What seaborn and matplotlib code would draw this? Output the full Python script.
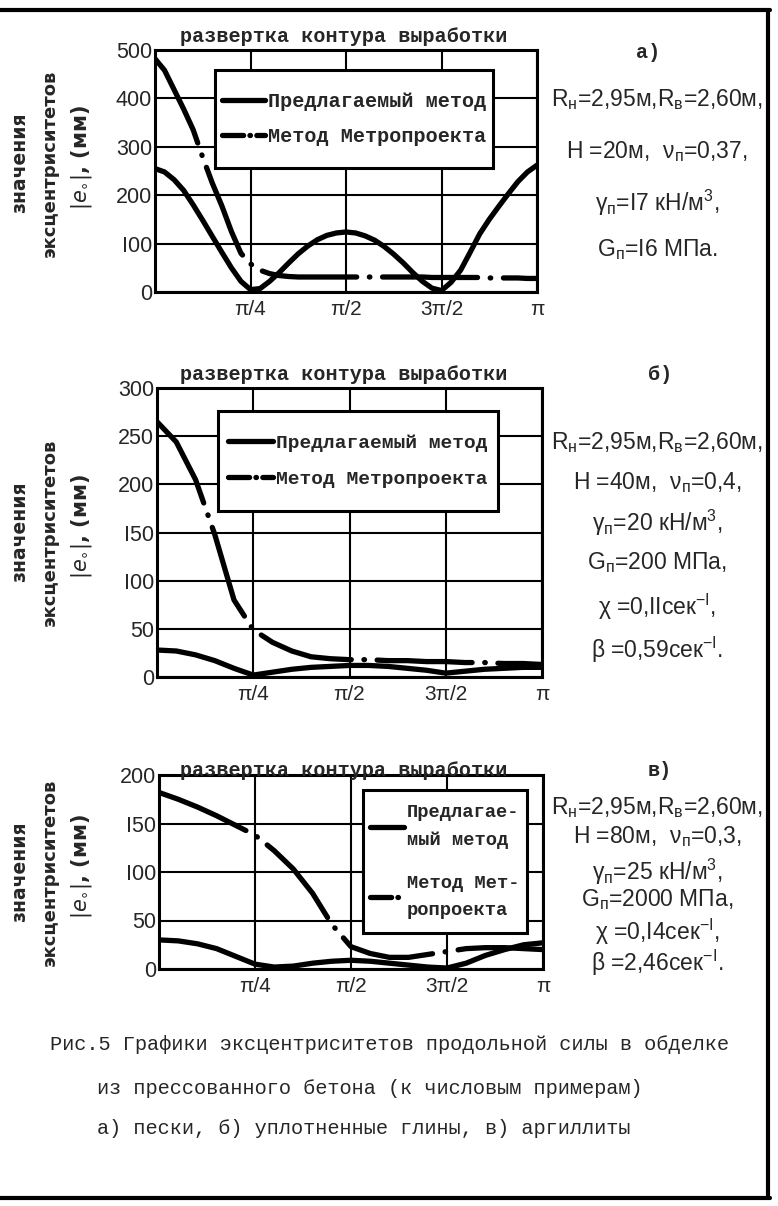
import numpy as np
import pandas as pd
import matplotlib
matplotlib.use("Agg")
import matplotlib.pyplot as plt
import seaborn as sns
from matplotlib.lines import Line2D
from matplotlib.patches import Rectangle
from matplotlib.font_manager import FontProperties


# DATA  (x is the contour position as a fraction of pi)
x_fine = [0.0, 0.025, 0.05, 0.075, 0.1, 0.125, 0.15, 0.175, 0.2, 0.225,
          0.25, 0.275, 0.3, 0.325, 0.35, 0.375, 0.4, 0.425, 0.45, 0.475,
          0.5, 0.525, 0.55, 0.575, 0.6, 0.625, 0.65, 0.675, 0.7, 0.725,
          0.75, 0.775, 0.8, 0.825, 0.85, 0.875, 0.9, 0.925, 0.95, 0.975, 1.0]
x_coarse = [0.0, 0.05, 0.1, 0.15, 0.2, 0.25, 0.3, 0.35, 0.4, 0.45, 0.5,
            0.55, 0.6, 0.65, 0.7, 0.75, 0.8, 0.85, 0.9, 0.95, 1.0]

# panel a) - sands (read on x_fine)
a_proposed = [255, 248, 232, 210, 180, 148, 115, 82, 50, 22,
              5, 7, 22, 40, 60, 79, 95, 108, 117, 122,
              124, 122, 116, 107, 94, 78, 60, 40, 22, 8,
              3, 20, 45, 82, 120, 150, 177, 203, 228, 248, 262]
a_metro = [482, 458, 418, 378, 335, 278, 225, 178, 125, 80,
           58, 45, 38, 34, 32, 31, 31, 31, 31, 31,
           31, 31, 31, 31, 31, 31, 31, 31, 31, 30,
           30, 30, 30, 30, 30, 29, 29, 29, 29, 28, 28]

# panel b) - compacted clays (read on x_coarse)
b_proposed = [28, 27, 23, 17, 9, 2, 5, 8, 10, 11, 12,
              12, 11, 9, 7, 4, 6, 8, 9, 10, 10]
b_metro = [265, 244, 205, 148, 80, 49, 36, 27, 21, 19, 18,
           18, 17, 17, 16, 16, 15, 15, 14, 14, 13]

# panel c) - argillites (read on x_coarse)
c_proposed = [30, 29, 26, 21, 13, 5, 2, 3, 6, 8, 9,
              8, 6, 4, 2, 1, 6, 14, 20, 25, 27]
c_metro = [182, 175, 167, 158, 148, 138, 122, 103, 78, 46, 23,
           16, 12, 12, 15, 18, 21, 22, 22, 21, 20]

x_ticks = [0.25, 0.5, 0.75, 1.0]
x_ticklabels = ["π/4", "π/2", "3π/2", "π"]

a_yticks = [0, 100, 200, 300, 400, 500]
a_yticklabels = ["0", "I00", "200", "300", "400", "500"]
b_yticks = [0, 50, 100, 150, 200, 250, 300]
b_yticklabels = ["0", "50", "I00", "I50", "200", "250", "300"]
c_yticks = [0, 50, 100, 150, 200]
c_yticklabels = ["0", "50", "I00", "I50", "200"]

method_names = ["Предлагаемый метод", "Метод Метропроекта"]
c_legend_names = ["Предлагае-\nмый метод", "Метод Мет-\nропроекта"]

top_title = "развертка контура выработки"
panel_tags = ["а)", "б)", "в)"]

a_params = [r"R$_\mathregular{н}$=2,95м,R$_\mathregular{в}$=2,60м,",
            r"H =20м,  ν$_\mathregular{п}$=0,37,",
            r"γ$_\mathregular{п}$=I7 кН/м$^\mathregular{3}$,",
            r"G$_\mathregular{п}$=I6 МПа."]
b_params = [r"R$_\mathregular{н}$=2,95м,R$_\mathregular{в}$=2,60м,",
            r"H =40м,  ν$_\mathregular{п}$=0,4,",
            r"γ$_\mathregular{п}$=20 кН/м$^\mathregular{3}$,",
            r"G$_\mathregular{п}$=200 МПа,",
            r"χ =0,IIсек$^\mathregular{-I}$,",
            r"β =0,59сек$^\mathregular{-I}$."]
c_params = [r"R$_\mathregular{н}$=2,95м,R$_\mathregular{в}$=2,60м,",
            r"H =80м,  ν$_\mathregular{п}$=0,3,",
            r"γ$_\mathregular{п}$=25 кН/м$^\mathregular{3}$,",
            r"G$_\mathregular{п}$=2000 МПа,",
            r"χ =0,I4сек$^\mathregular{-I}$,",
            r"β =2,46сек$^\mathregular{-I}$."]

caption = ["Рис.5 Графики эксцентриситетов продольной силы в обделке",
           "из прессованного бетона (к числовым примерам)",
           "а) пески, б) уплотненные глины, в) аргиллиты"]


# STYLE
sns.set_theme(style="white")
plt.rcParams["font.family"] = ["Liberation Sans", "DejaVu Sans"]
plt.rcParams["mathtext.fontset"] = "dejavusans"

W, H = 778, 1206
fig = plt.figure(figsize=(W / 100, H / 100), dpi=100)
fig.patch.set_facecolor("white")

mono = FontProperties(family="Liberation Mono", weight="bold", size=14.5)
DASHDOT = (18, 2.4, 0.1, 2.4)
LW = 3.8


def px(x, y):
    return x / W, 1 - y / H


def make_axes(left, right, top, bottom):
    return fig.add_axes([left / W, 1 - bottom / H, (right - left) / W, (bottom - top) / H])


def draw_panel(ax, xs, proposed, metro, ymax, yticks, yticklabels):
    df = pd.DataFrame({
        "x": xs * 2,
        "e": proposed + metro,
        "method": [method_names[0]] * len(xs) + [method_names[1]] * len(xs),
    })
    sns.lineplot(data=df, x="x", y="e", style="method",
                 dashes={method_names[0]: "", method_names[1]: DASHDOT},
                 color="black", linewidth=LW, estimator=None, sort=False,
                 legend=False, ax=ax, zorder=3)
    for ln in ax.lines:
        ln.set_dash_capstyle("round")
        ln.set_solid_capstyle("round")
        ln.set_solid_joinstyle("round")
    ax.set_xlim(0, 1)
    ax.set_ylim(0, ymax)
    ax.set_xticks(x_ticks)
    ax.set_xticklabels(x_ticklabels, fontsize=15)
    ax.set_yticks(yticks)
    ax.set_yticklabels(yticklabels, fontsize=15.5)
    ax.tick_params(length=0, pad=2)
    ax.tick_params(axis="x", pad=6)
    ax.set_xlabel("")
    ax.set_ylabel("")
    ax.grid(True, color="black", linewidth=1.5)
    for s in ax.spines.values():
        s.set_visible(True)
        s.set_color("black")
        s.set_linewidth(2.2)


def add_legend(ax, labels, box, size, spacing, hlen, linesp=1.2):
    # box in figure pixels: left, top, right, bottom
    l, t, r, b = box
    ax.add_patch(Rectangle(px(l, b), (r - l) / W, (b - t) / H, transform=fig.transFigure,
                           facecolor="white", edgecolor="black", lw=2.2,
                           clip_on=False, zorder=4))
    handles = [Line2D([], [], color="black", lw=LW, solid_capstyle="round"),
               Line2D([], [], color="black", lw=LW, dashes=(4, 1.2, 0.1, 1.2),
                      dash_capstyle="round")]
    leg = ax.legend(handles, labels, loc="center",
                    bbox_to_anchor=px((l + r) / 2, (t + b) / 2), bbox_transform=fig.transFigure,
                    frameon=False,
                    prop=FontProperties(family="Liberation Mono", weight="bold", size=size),
                    handlelength=hlen, handletextpad=0.15, labelspacing=spacing,
                    borderpad=0, borderaxespad=0)
    for tx in leg.get_texts():
        tx.set_linespacing(linesp)
    leg.set_zorder(5)


# PANELS
ax_a = make_axes(155, 537, 50, 292)
draw_panel(ax_a, x_fine, a_proposed, a_metro, 500, a_yticks, a_yticklabels)
add_legend(ax_a, method_names, (215, 70, 493, 168), 14.5, 0.8, 2.1)

ax_b = make_axes(157, 542, 388, 677)
draw_panel(ax_b, x_coarse, b_proposed, b_metro, 300, b_yticks, b_yticklabels)
add_legend(ax_b, method_names, (218, 411, 498, 511), 14.0, 0.95, 2.3)

ax_c = make_axes(159, 543, 775, 969)
draw_panel(ax_c, x_coarse, c_proposed, c_metro, 200, c_yticks, c_yticklabels)
add_legend(ax_c, c_legend_names, (363, 790, 527, 933), 13.5, 1.35, 1.8, linesp=1.8)


# TEXTS AROUND THE PANELS
title_y = [37, 375, 770]
for ty in title_y:
    fig.text(*px(344, ty), top_title, ha="center", va="center", fontproperties=mono)

tag_pos = [(648, 53), (660, 375), (660, 770)]
for (tx, ty), tag in zip(tag_pos, panel_tags):
    fig.text(*px(tx, ty), tag, ha="center", va="center", fontproperties=mono)

param_y = [[100, 152, 203, 250],
           [443, 483, 523, 563, 607, 650],
           [808, 837, 872, 900, 932, 963]]
for lines, ys in zip([a_params, b_params, c_params], param_y):
    for txt, yy in zip(lines, ys):
        fig.text(*px(657, yy), txt, ha="center", va="center", fontsize=16.5)

ylabel_y = [163, 532, 872]
for yc in ylabel_y:
    fig.text(*px(20, yc), "значения", rotation=90, ha="center", va="center",
             fontsize=13.5, fontweight="bold", family="DejaVu Sans")
    fig.text(*px(50, yc), "эксцентриситетов", rotation=90, ha="center", va="center",
             fontsize=13, fontweight="bold", family="DejaVu Sans")
    fig.text(*px(82, yc - 6), r"$|e_{\circ}|$, (мм)", rotation=90, ha="center", va="center",
             fontsize=15, fontweight="bold", family="DejaVu Sans")

cap_pos = [(50, 1045), (97, 1088), (97, 1128)]
cap_font = FontProperties(family="Liberation Mono", size=14.6)
for (cx, cy), line in zip(cap_pos, caption):
    fig.text(*px(cx, cy), line, ha="left", va="center", fontproperties=cap_font)

# page frame
for xs, ys in [([0, 770], [10, 10]), ([768, 768], [10, 1198]), ([0, 770], [1198, 1198])]:
    fig.add_artist(Line2D([x / W for x in xs], [1 - y / H for y in ys],
                          color="black", lw=3, transform=fig.transFigure))

fig.savefig("out.png", dpi=100)
